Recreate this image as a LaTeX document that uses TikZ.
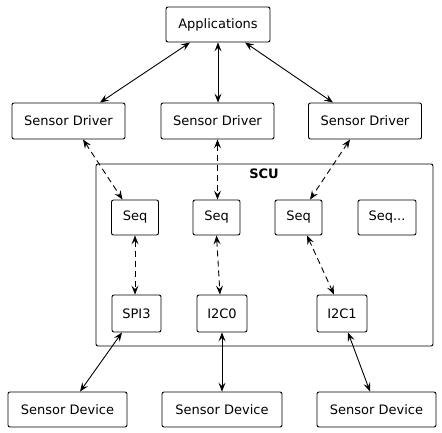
\documentclass[tikz,border=0pt]{standalone}
\usepackage{fontspec}
\setmainfont{DejaVu Sans}
\usetikzlibrary{arrows.meta}
\def\link{\draw[<->]}
\def\dlink{\draw[<->,dash pattern=on 6pt off 4pt]}

\begin{document}
\begin{tikzpicture}[x=1pt,y=-1pt,line width=0.9pt,
    >={Stealth[length=9pt,width=7pt,inset=3.5pt]},
    box/.style={draw,rounded corners=2pt,inner sep=0pt,minimum height=35pt,
                font=\fontsize{13}{15}\selectfont}]
    \useasboundingbox (0,0) rectangle (442,432);
    \node[box,minimum width=104pt] (app) at (218,24.5) {Applications};
    \node[box,minimum width=113pt,minimum height=36pt] (drv1) at (68.5,121) {Sensor Driver};
    \node[box,minimum width=113pt,minimum height=36pt] (drv2) at (217.5,121) {Sensor Driver};
    \node[box,minimum width=113pt,minimum height=36pt] (drv3) at (365,121) {Sensor Driver};
    % SCU
    \draw[rounded corners=2pt] (96,164) rectangle (433,346);
    \node[font=\fontsize{13}{15}\selectfont\bfseries] (scu) at (264,174) {SCU};
    \node[box,minimum width=47pt] (seq1) at (135,217.5) {Seq};
    \node[box,minimum width=47pt] (seq2) at (216.5,217.5) {Seq};
    \node[box,minimum width=47pt] (seq3) at (298.5,217.5) {Seq};
    \node[box,minimum width=58pt] (seq4) at (387,217.5) {Seq...};
    \node[box,minimum width=49pt,minimum height=37pt] (spi) at (136.5,313.5) {SPI3};
    \node[box,minimum width=50pt,minimum height=37pt] (i2c0) at (222,313.5) {I2C0};
    \node[box,minimum width=50pt,minimum height=37pt] (i2c1) at (342,313.5) {I2C1};
    \node[box,minimum width=119pt] (dev1) at (67.5,409.5) {Sensor Device};
    \node[box,minimum width=120pt] (dev2) at (222,409.5) {Sensor Device};
    \node[box,minimum width=119pt] (dev3) at (376.5,409.5) {Sensor Device};
    % links
    \link ([xshift=-28pt]app.south) -- ([xshift=31.5pt]drv1.north);
    \link (app.south) -- (app.south |- drv2.north);
    \link ([xshift=27pt]app.south) -- ([xshift=-32pt]drv3.north);
    \dlink ([xshift=14.5pt]drv1.south) -- ([xshift=-12.5pt]seq1.north);
    \dlink (drv2.south) -- (drv2.south |- seq2.north);
    \dlink ([xshift=-15pt]drv3.south) -- ([xshift=11.5pt]seq3.north);
    \dlink (seq1.south) -- (seq1.south |- spi.north);
    \dlink (seq2.south) -- ([xshift=-2pt]i2c0.north);
    \dlink ([xshift=8.5pt]seq3.south) -- ([xshift=-8pt]i2c1.north);
    \link ([xshift=12.5pt]dev1.north) -- ([xshift=-14.5pt]spi.south);
    \link (dev2.north) -- (i2c0.south);
    \link ([xshift=-6.5pt]dev3.north) -- ([xshift=6pt]i2c1.south);
\end{tikzpicture}
\end{document}
